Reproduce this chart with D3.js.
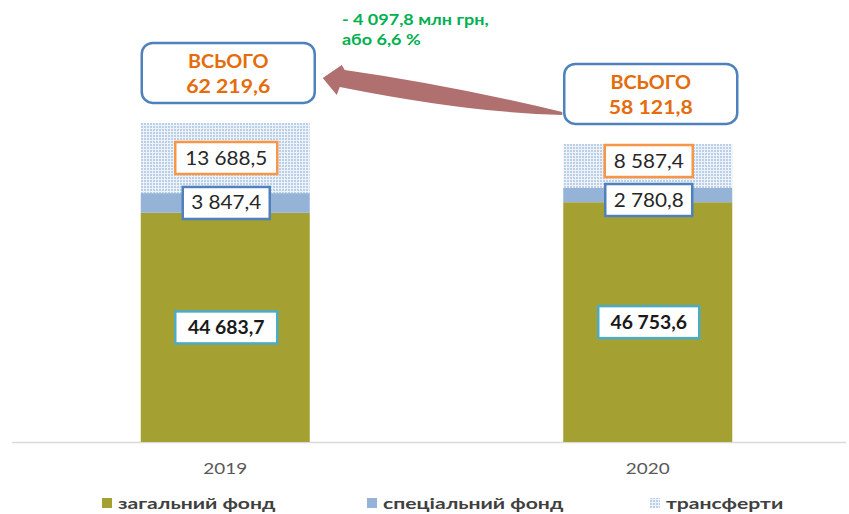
<!DOCTYPE html>
<html>
<head>
<meta charset="utf-8">
<script src="https://cdn.jsdelivr.net/npm/d3@7"></script>
<style>
  body { margin: 0; background: #fff; }
  svg { display: block; font-family: Lato, "Open Sans", sans-serif; }
</style>
</head>
<body>
<div id="chart"></div>
<script>
// data
const years = ["2019", "2020"];
const general = [44683.7, 46753.6];   // загальний фонд
const special = [3847.4, 2780.8];     // спеціальний фонд
const transfers = [13688.5, 8587.4];  // трансферти
const totals = [62219.6, 58121.8];
const seriesNames = ["загальний фонд", "спеціальний фонд", "трансферти"];
const diffLines = ["- 4 097,8 млн грн,", "або 6,6 %"];

const width = 849, height = 514;

const svg = d3.select("#chart").append("svg")
    .attr("width", width)
    .attr("height", height);

// source font is wider than Lato, stretch text a bit
function stretch(sel, k) {
    sel.each(function () {
        const w = this.getComputedTextLength();
        d3.select(this).attr("textLength", w * k).attr("lengthAdjust", "spacingAndGlyphs");
    });
}

// dotted fill for transfers
const defs = svg.append("defs");
const pat = defs.append("pattern")
    .attr("id", "dots")
    .attr("width", 3).attr("height", 3)
    .attr("patternUnits", "userSpaceOnUse");
pat.append("rect").attr("width", 3).attr("height", 3).attr("fill", "#eef3fa");
pat.append("rect").attr("width", 2).attr("height", 2).attr("fill", "#bccfe8");

const x = d3.scaleBand()
    .domain(years)
    .range([14, 859])
    .paddingInner(0.6)
    .paddingOuter(0.3);

const y = d3.scaleLinear()
    .domain([0, 70000])
    .range([442, 83]);

const fmt = v => d3.format(",.1f")(v).replace(/,/g, " ").replace(".", ",");

// stack
const rows = years.map((yr, i) => ({year: yr, general: general[i], special: special[i], transfers: transfers[i]}));
const stack = d3.stack().keys(["general", "special", "transfers"])(rows);
const fills = {general: "#a5a032", special: "#95b3d7", transfers: "url(#dots)"};

// axis line
svg.append("line")
    .attr("x1", 12).attr("x2", 846)
    .attr("y1", y(0) + 0.5).attr("y2", y(0) + 0.5)
    .attr("stroke", "#d9d9d9")
    .attr("stroke-width", 1.5);

stack.forEach(layer => {
    svg.append("g").selectAll("rect")
        .data(layer)
        .join("rect")
        .attr("x", d => x(d.data.year))
        .attr("width", x.bandwidth())
        .attr("y", d => y(d[1]))
        .attr("height", d => y(d[0]) - y(d[1]))
        .attr("fill", fills[layer.key]);
});

// x labels
svg.append("g").selectAll("text")
    .data(years)
    .join("text")
    .attr("x", d => x(d) + x.bandwidth() / 2)
    .attr("y", 474)
    .attr("text-anchor", "middle")
    .attr("fill", "#595959")
    .style("font-size", "16px")
    .text(d => d)
    .call(stretch, 1.18);

// data labels (boxes)
function labelBox(cx, cy, w, text, stroke, bold) {
    const g = svg.append("g");
    g.append("rect")
        .attr("x", cx - w / 2).attr("y", cy - 16)
        .attr("width", w).attr("height", 32)
        .attr("fill", "#fff")
        .attr("stroke", stroke)
        .attr("stroke-width", 2.5);
    g.append("text")
        .attr("x", cx).attr("y", cy + 6.5)
        .attr("text-anchor", "middle")
        .attr("fill", bold ? "#1a1a1a" : "#262626")
        .style("font-size", "19px")
        .style("font-weight", bold ? "bold" : "normal")
        .text(text)
        .call(stretch, bold ? 1.02 : 1.09);
}

rows.forEach((r, i) => {
    const cx = x(r.year) + x.bandwidth() / 2 + 1;
    const s = stack.map(l => l[i]);
    const cGen = (y(s[0][0]) + y(s[0][1])) / 2;
    let cSpe = (y(s[1][0]) + y(s[1][1])) / 2;
    let cTra = (y(s[2][0]) + y(s[2][1])) / 2;
    const minGap = 39;
    if (cSpe - cTra < minGap) {
        const push = (minGap - (cSpe - cTra)) / 2;
        cSpe += push; cTra -= push;
    }
    labelBox(cx, cGen, i === 0 ? 102 : 101, fmt(general[i]), "#4bacc6", true);
    labelBox(cx, cSpe, 87, fmt(special[i]), "#4f81bd", false);
    labelBox(cx, cTra, i === 0 ? 102 : 88, fmt(transfers[i]), "#f79646", false);

    // total box
    const ty = y(totals[i]) - 50;
    const tx = cx + 2;
    svg.append("rect")
        .attr("x", tx - 86.5).attr("y", ty - 30)
        .attr("width", 173).attr("height", 60)
        .attr("rx", 11)
        .attr("fill", "#fff")
        .attr("stroke", "#4f81bd")
        .attr("stroke-width", 2.5);
    svg.append("text")
        .attr("x", tx).attr("y", ty - 5)
        .attr("text-anchor", "middle")
        .attr("fill", "#e46c0a")
        .style("font-size", "18px")
        .style("font-weight", "bold")
        .text("ВСЬОГО")
        .call(stretch, 1.1);
    svg.append("text")
        .attr("x", tx).attr("y", ty + 20)
        .attr("text-anchor", "middle")
        .attr("fill", "#e46c0a")
        .style("font-size", "18px")
        .style("font-weight", "bold")
        .text(fmt(totals[i]))
        .call(stretch, 1.18);
});

// curved arrow from 2020 total to 2019 total
const x0 = x(years[0]) + x.bandwidth() / 2 + 3 + 86.5;   // right edge of 2019 box
const x1 = x(years[1]) + x.bandwidth() / 2 + 3 - 86.5;   // left edge of 2020 box
const yA = y(totals[0]) - 50, yB = y(totals[1]) - 50;
const arrowPath = d3.path();
arrowPath.moveTo(x0 + 8, yA + 5);                  // tip
arrowPath.lineTo(x0 + 27, yA - 8);                 // head top
arrowPath.lineTo(x0 + 30, yA - 3);                 // shaft top
arrowPath.quadraticCurveTo(x0 + 135, yA + 12, x1 - 2, yB + 18);
arrowPath.lineTo(x1 - 2, yB + 21);
arrowPath.quadraticCurveTo(x1 - 94, yB + 19, x0 + 25, yA + 14);
arrowPath.lineTo(x0 + 22, yA + 22);                // head bottom
arrowPath.closePath();
svg.append("path")
    .attr("d", arrowPath.toString())
    .attr("fill", "#b07070");

// difference text
svg.append("g").selectAll("text")
    .data(diffLines)
    .join("text")
    .attr("x", 342)
    .attr("y", (d, i) => 25 + i * 20)
    .attr("fill", "#00b050")
    .style("font-size", "14.5px")
    .style("font-weight", "bold")
    .text(d => d)
    .call(stretch, 1.24);

// legend
const legendX = [102, 367, 650];
const legendFill = ["#a5a032", "#95b3d7", "url(#dots)"];
const leg = svg.append("g").selectAll("g")
    .data(seriesNames)
    .join("g")
    .attr("transform", (d, i) => `translate(${legendX[i]},503)`);
leg.append("rect")
    .attr("x", 0).attr("y", -5)
    .attr("width", 10).attr("height", 10)
    .attr("fill", (d, i) => legendFill[i]);
leg.append("text")
    .attr("x", 16).attr("y", 5.5)
    .attr("fill", "#404040")
    .style("font-size", "16px")
    .style("font-weight", "bold")
    .text(d => d)
    .call(stretch, 1.32);
</script>
</body>
</html>
